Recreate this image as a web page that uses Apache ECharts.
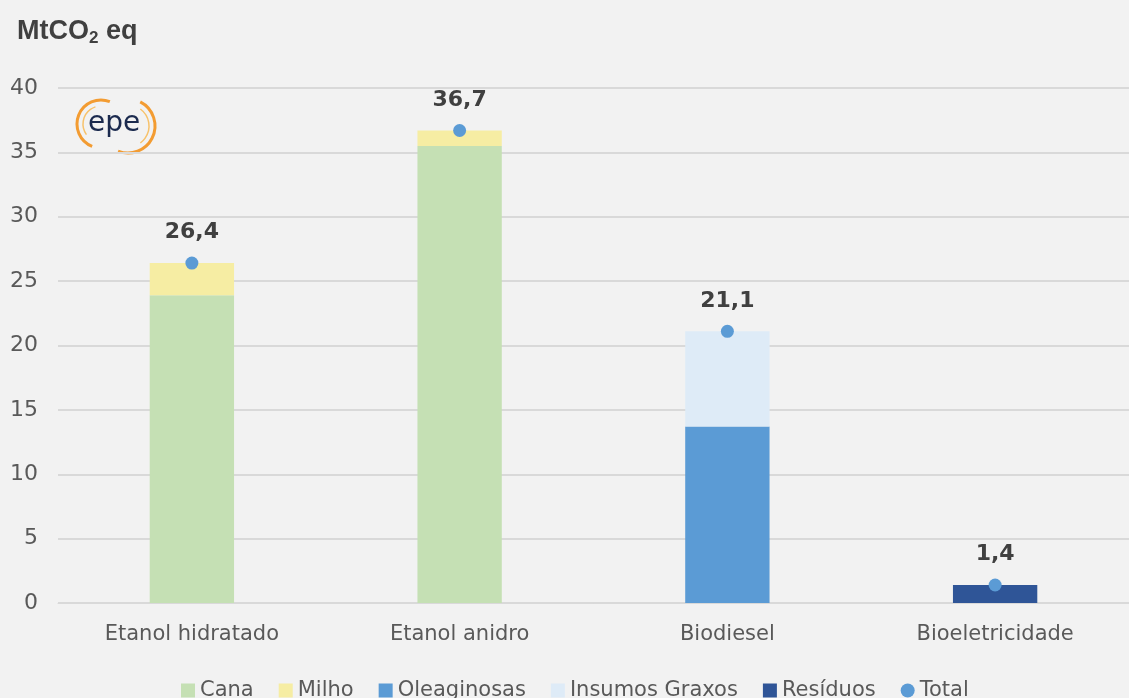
<!DOCTYPE html>
<html><head><meta charset="utf-8">
<script src="https://cdn.jsdelivr.net/npm/echarts@6/dist/echarts.min.js"></script>
<style>html,body{margin:0;padding:0;background:#f2f2f2}#c{width:1129px;height:698px}</style>
</head><body><div id="c"></div>
<script>
const categories = ['Etanol hidratado', 'Etanol anidro', 'Biodiesel', 'Bioeletricidade'];
const cana = [23.9, 35.5, null, null];
const milho = [2.5, 1.2, null, null];
const oleaginosas = [null, null, 13.7, null];
const insumosGraxos = [null, null, 7.4, null];
const residuos = [null, null, null, 1.4];
const total = [26.4, 36.7, 21.1, 1.4];
const yTicks = [0, 5, 10, 15, 20, 25, 30, 35, 40];

const FONT = 'DejaVu Sans';
const chart = echarts.init(document.getElementById('c'));
function bar(name, data, color) {
  return { name, type: 'bar', stack: 's', data, barWidth: '31.5%', itemStyle: { color, opacity: 1 }, emphasis: { disabled: true } };
}
chart.setOption({
  backgroundColor: '#f2f2f2',
  animation: false,
  textStyle: { fontFamily: FONT },
  title: {
    text: '{a|MtCO}{s|2}{a| eq}', left: 12, top: 11,
    textStyle: { rich: {
      a: { fontFamily: 'Liberation Sans', fontWeight: 'bold', fontSize: 27, color: '#404040' },
      s: { fontFamily: 'Liberation Sans', fontWeight: 'bold', fontSize: 17, color: '#404040', padding: [14, 0, 0, 0] }
    } }
  },
  grid: { left: 58, top: 88, width: 1080, height: 515, containLabel: false },
  legend: {
    top: 675, left: 176, itemWidth: 14, itemHeight: 14, itemGap: 25,
    textStyle: { fontFamily: FONT, fontSize: 21, color: '#595959', padding: [0, 0, 0, 0] },
    data: [
      { name: 'Cana', icon: 'rect' }, { name: 'Milho', icon: 'rect' }, { name: 'Oleaginosas', icon: 'rect' },
      { name: 'Insumos Graxos', icon: 'rect' }, { name: 'Resíduos', icon: 'rect' }, { name: 'Total', icon: 'circle' }
    ]
  },
  xAxis: {
    type: 'category', data: categories,
    axisLine: { show: true, lineStyle: { color: '#d9d9d9', width: 1 } },
    axisTick: { show: false },
    axisLabel: { fontFamily: FONT, fontSize: 21, color: '#595959', margin: 21 }
  },
  yAxis: {
    type: 'value', min: 0, max: 40, interval: 5,
    axisLine: { show: false }, axisTick: { show: false },
    splitLine: { lineStyle: { color: '#d9d9d9', width: 2 } },
    axisLabel: { fontFamily: FONT, fontSize: 22, color: '#595959', margin: 20,
      formatter: v => yTicks.includes(v) ? String(v) : '' }
  },
  series: [
    bar('Cana', cana, '#c5e0b4'),
    bar('Milho', milho, '#f6eda3'),
    bar('Oleaginosas', oleaginosas, '#5b9bd5'),
    bar('Insumos Graxos', insumosGraxos, '#deebf7'),
    bar('Resíduos', residuos, '#2f5597'),
    {
      name: 'Total', type: 'scatter', data: total, symbolSize: 13,
      itemStyle: { color: '#5b9bd5', opacity: 1 },
      label: { show: true, position: 'top', distance: 13, fontFamily: FONT, fontWeight: 'bold', fontSize: 22, color: '#404040',
        formatter: p => p.value.toFixed(1).replace('.', ',') },
      emphasis: { disabled: true },
      z: 5
    }
  ],
  graphic: [
    { type: 'arc', shape: { cx: 101, cy: 124, r: 24, startAngle: Math.PI * 0.62, endAngle: Math.PI * 1.62 }, style: { stroke: '#f39c32', lineWidth: 3, fill: null } },
    { type: 'arc', shape: { cx: 101, cy: 124, r: 18, startAngle: Math.PI * 0.8, endAngle: Math.PI * 1.4 }, style: { stroke: '#f7c26b', lineWidth: 1.5, fill: null } },
    { type: 'arc', shape: { cx: 128, cy: 126, r: 27, startAngle: -Math.PI * 0.35, endAngle: Math.PI * 0.62 }, style: { stroke: '#f39c32', lineWidth: 3, fill: null } },
    { type: 'arc', shape: { cx: 128, cy: 126, r: 21, startAngle: -Math.PI * 0.3, endAngle: Math.PI * 0.3 }, style: { stroke: '#f7c26b', lineWidth: 1.5, fill: null } },
    { type: 'text', left: 88, top: 110, style: { text: 'epe', fontFamily: 'DejaVu Sans', fontSize: 28, fill: '#1b2a4e' } }
  ]
});
</script></body></html>
